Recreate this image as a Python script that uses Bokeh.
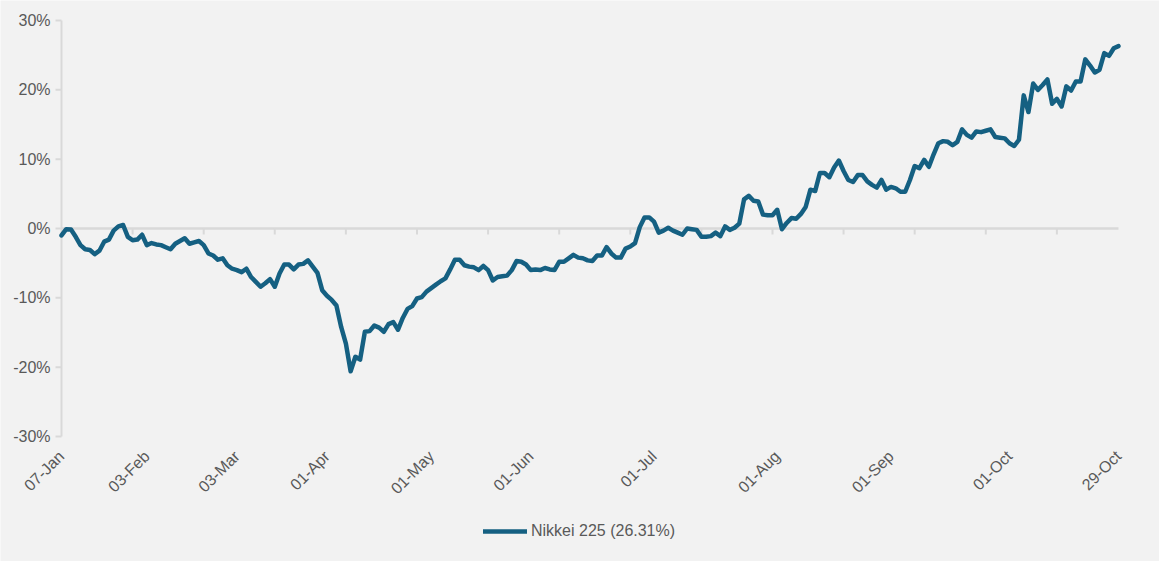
import math
from bokeh.plotting import figure
from bokeh.models import Range1d, Legend, LegendItem, ColumnDataSource
from bokeh.core.properties import value
from bokeh.embed import file_html
from bokeh.resources import INLINE

# ---- data (cumulative return, %, one value per trading day) ----
values = [
    -1.0, -0.1, -0.15, -1.2, -2.4, -3.0, -3.1, -3.7, -3.2, -1.9,
    -1.6, -0.3, 0.3, 0.5, -1.2, -1.7, -1.6, -0.9, -2.4, -2.1,
    -2.3, -2.4, -2.7, -3.0, -2.2, -1.8, -1.4, -2.2, -2.0, -1.8,
    -2.4, -3.6, -3.9, -4.5, -4.3, -5.3, -5.8, -6.0, -6.3, -5.8,
    -7.0, -7.7, -8.4, -7.9, -7.3, -8.4, -6.5, -5.2, -5.2, -5.9,
    -5.2, -5.1, -4.6, -5.5, -6.4, -8.9, -9.7, -10.3, -11.1, -14.2,
    -16.6, -20.6, -18.5, -18.9, -14.9, -14.8, -14.0, -14.3, -14.9, -13.8,
    -13.5, -14.6, -12.9, -11.6, -11.2, -10.1, -9.9, -9.1, -8.6, -8.1,
    -7.6, -7.2, -5.9, -4.5, -4.5, -5.3, -5.5, -5.6, -6.0, -5.4,
    -6.0, -7.5, -7.0, -6.9, -6.8, -6.0, -4.7, -4.8, -5.2, -6.0,
    -5.9, -6.0, -5.7, -5.9, -6.0, -4.8, -4.8, -4.3, -3.8, -4.2,
    -4.3, -4.6, -4.7, -3.9, -3.9, -2.7, -3.6, -4.2, -4.2, -2.9,
    -2.6, -2.1, 0.2, 1.6, 1.6, 1.0, -0.6, -0.3, 0.1, -0.3,
    -0.6, -0.9, 0.0, -0.1, -0.2, -1.2, -1.2, -1.1, -0.6, -1.1,
    0.3, -0.2, 0.1, 0.7, 4.2, 4.7, 4.0, 3.9, 2.0, 1.9,
    1.9, 2.7, -0.1, 0.8, 1.5, 1.4, 2.1, 3.1, 5.6, 5.4,
    8.0, 8.0, 7.4, 8.8, 9.8, 8.3, 7.0, 6.7, 7.7, 7.7,
    6.8, 6.3, 5.9, 7.0, 5.6, 6.0, 5.8, 5.3, 5.3, 7.0,
    9.0, 8.7, 9.9, 8.9, 10.7, 12.3, 12.6, 12.5, 12.0, 12.5,
    14.3, 13.5, 13.1, 14.0, 13.9, 14.1, 14.3, 13.2, 13.1, 13.0,
    12.3, 11.9, 12.8, 19.2, 16.8, 20.9, 20.0, 20.7, 21.5, 18.0,
    18.7, 17.6, 20.5, 19.9, 21.2, 21.2, 24.4, 23.5, 22.5, 22.9,
    25.3, 24.9, 26.0, 26.31,
]
day_index = list(range(len(values)))

label_index = [0, 18, 37, 56, 78, 99, 125, 151, 175, 200, 223]
label_text = ["07-Jan", "03-Feb", "03-Mar", "01-Apr", "01-May", "01-Jun",
              "01-Jul", "01-Aug", "01-Sep", "01-Oct", "29-Oct"]
y_ticks = [-30, -20, -10, 0, 10, 20, 30]
y_tick_labels = [f"{t}%" for t in y_ticks]
y_min, y_max = -30, 30
series_name = "Nikkei 225 (26.31%)"

# ---- style ----
BG = "#F2F2F2"
LINE = "#156082"
AXIS = "#D9D9D9"
TXT = "#595959"
FONT = "Liberation Sans"

# ---- layout: the frame covers the whole canvas; the plot area sits inside it ----
W, H = 1159, 561
AREA_LEFT, AREA_RIGHT, AREA_TOP, AREA_BOTTOM = 61, 1118, 20, 436
x_first, x_last = day_index[0], day_index[-1]
px_x = (AREA_RIGHT - AREA_LEFT) / (x_last - x_first)
px_y = (AREA_BOTTOM - AREA_TOP) / (y_max - y_min)
x_rng = Range1d(x_first - AREA_LEFT / px_x, x_last + (W - AREA_RIGHT) / px_x)
y_rng = Range1d(y_min - (H - AREA_BOTTOM) / px_y, y_max + AREA_TOP / px_y)

p = figure(width=W, height=H, output_backend="svg", toolbar_location=None,
           x_range=x_rng, y_range=y_rng,
           x_axis_location=None, y_axis_location=None,
           min_border_left=0, min_border_right=0, min_border_top=0,
           min_border_bottom=0)
p.background_fill_color = BG
p.border_fill_color = BG
p.outline_line_color = None
p.xgrid.visible = False
p.ygrid.visible = False

# vertical value axis: line, outward ticks, labels
p.segment(x0=[x_first], y0=[y_min], x1=[x_first], y1=[y_max],
          line_color=AXIS, line_width=2)
tick_len = 6 / px_x
p.segment(x0=[x_first] * len(y_ticks), y0=y_ticks,
          x1=[x_first - tick_len] * len(y_ticks), y1=y_ticks,
          line_color=AXIS, line_width=2)
p.text(x=[x_first] * len(y_ticks), y=y_ticks, text=y_tick_labels,
       x_offset=-11, text_align="right", text_baseline="middle",
       text_color=TXT, text_font=value(FONT), text_font_size="16px")

# horizontal category axis line at 0 with small tick marks
p.segment(x0=[x_first], y0=[0], x1=[x_last], y1=[0],
          line_color=AXIS, line_width=2.5)
tick_x = list(range(15, len(values), 15))
p.segment(x0=tick_x, y0=[0] * len(tick_x), x1=tick_x,
          y1=[-6 / px_y] * len(tick_x), line_color=AXIS, line_width=2)

# date labels under the plot area (rotated 45 degrees)
p.text(x=label_index, y=[y_min] * len(label_index), text=label_text,
       angle=math.pi / 4, text_align="right", text_baseline="middle",
       y_offset=17, text_color=TXT, text_font=value(FONT),
       text_font_size="16px")

src = ColumnDataSource(dict(x=day_index, y=values))
r = p.line("x", "y", source=src, line_color=LINE, line_width=4.5,
           line_join="round", line_cap="round")

legend = Legend(items=[LegendItem(label=series_name, renderers=[r])],
                location=(483, 20), orientation="horizontal",
                background_fill_alpha=0, border_line_color=None,
                padding=0, margin=0, glyph_width=44, glyph_height=20,
                label_height=20, label_standoff=4, label_text_font=FONT,
                label_text_font_size="16px", label_text_color=TXT)
p.add_layout(legend)

open("out.html", "w").write(file_html(p, INLINE))
